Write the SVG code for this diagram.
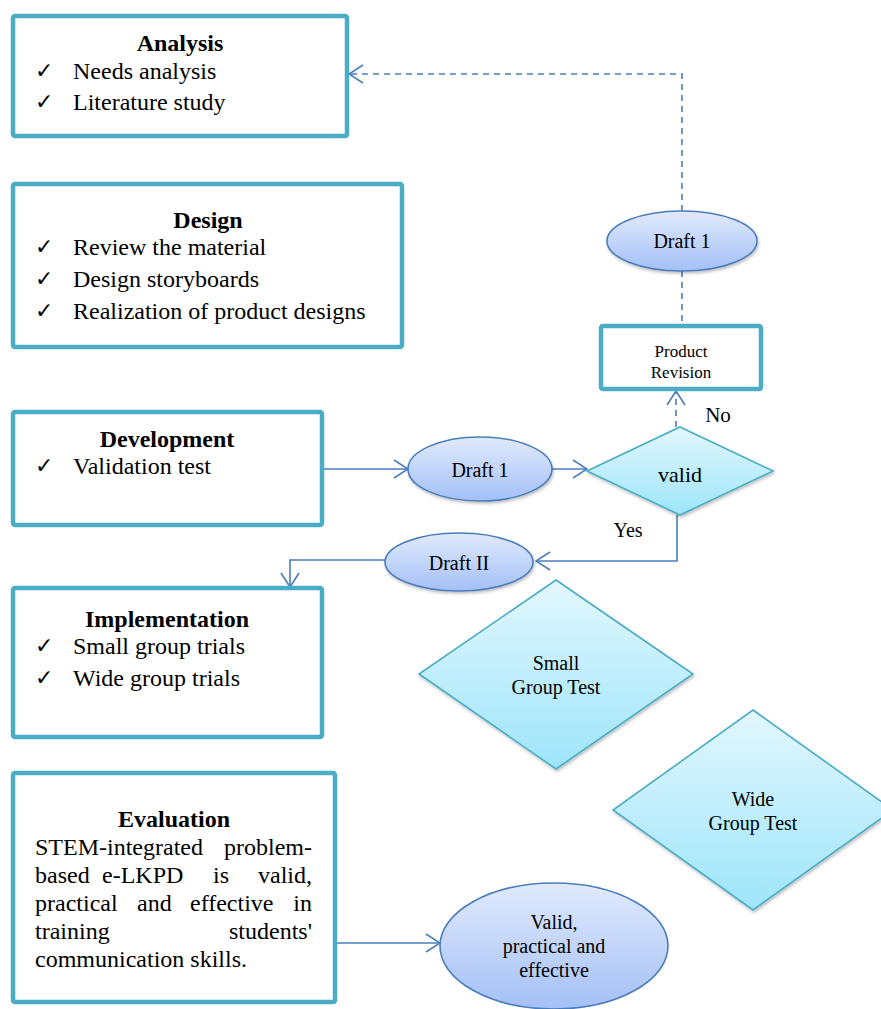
<svg xmlns="http://www.w3.org/2000/svg" width="881" height="1009" viewBox="0 0 881 1009">
<style>
.box{fill:#fff;stroke:#4BACC6;stroke-width:4.5}
.t{font-family:"Liberation Serif","Times New Roman",serif;font-size:24px;fill:#000}
.b{font-weight:bold;text-anchor:middle}
.ck{font-family:"DejaVu Sans",sans-serif;font-size:22px;fill:#000}
.s{font-family:"Liberation Serif","Times New Roman",serif;font-size:20px;fill:#000;text-anchor:middle}
.ell{fill:url(#gE);stroke:#4A7EBB;stroke-width:1.6}
.dia{fill:url(#gD);stroke:#4BACC6;stroke-width:1.6}
.c{fill:none;stroke:#4A7EBB;stroke-width:1.6}
.d{stroke-dasharray:6 5}
</style>
<defs>
<linearGradient id="gE" x1="0" y1="0" x2="0" y2="1"><stop offset="0" stop-color="#E1EAFC"/><stop offset="1" stop-color="#A4C0F6"/></linearGradient>
<linearGradient id="gD" x1="0" y1="0" x2="0" y2="1"><stop offset="0" stop-color="#E2F7FD"/><stop offset="1" stop-color="#9EE5FA"/></linearGradient>
<filter id="sh" x="-10%" y="-10%" width="130%" height="130%"><feDropShadow dx="1" dy="2" stdDeviation="1.5" flood-color="#000" flood-opacity="0.25"/></filter>
<marker id="ar" viewBox="0 0 16 20" refX="15" refY="10" markerWidth="16" markerHeight="20" markerUnits="userSpaceOnUse" orient="auto"><path d="M1,1 L15,10 L1,19" fill="none" stroke="#4A7EBB" stroke-width="1.6"/></marker>
</defs>

<g id="connectors">
<path class="c d" d="M682,211 V74 H349" marker-end="url(#ar)"/>
<path class="c d" d="M682,271 V326"/>
<path class="c d" d="M676,427 V391" marker-end="url(#ar)"/>
<path class="c" d="M324,469 H408" marker-end="url(#ar)"/>
<path class="c" d="M552,469 H587" marker-end="url(#ar)"/>
<path class="c" d="M677,515 V561 H536" marker-end="url(#ar)"/>
<path class="c" d="M385,560 H290 V587" marker-end="url(#ar)"/>
<path class="c" d="M337,943 H440" marker-end="url(#ar)"/>
<text class="s" x="718" y="422" style="font-size:21px">No</text>
<text class="s" x="628" y="537">Yes</text>
</g>

<g id="analysis">
<rect class="box" x="13" y="16" width="334" height="120" rx="2"/>
<text class="t b" x="180" y="51">Analysis</text>
<text class="ck" x="35" y="78">✓</text><text class="t" x="73" y="79">Needs analysis</text>
<text class="ck" x="35" y="109">✓</text><text class="t" x="73" y="110">Literature study</text>
</g>

<g id="design">
<rect class="box" x="13" y="184" width="389" height="163" rx="2"/>
<text class="t b" x="208" y="228">Design</text>
<text class="ck" x="35" y="254">✓</text><text class="t" x="73" y="255">Review the material</text>
<text class="ck" x="35" y="286">✓</text><text class="t" x="73" y="287">Design storyboards</text>
<text class="ck" x="35" y="318">✓</text><text class="t" x="73" y="319">Realization of product designs</text>
</g>

<g id="development">
<rect class="box" x="13" y="412" width="309" height="113" rx="2"/>
<text class="t b" x="167" y="447">Development</text>
<text class="ck" x="35" y="473">✓</text><text class="t" x="73" y="474">Validation test</text>
</g>

<g id="implementation">
<rect class="box" x="13" y="588" width="309" height="149" rx="2"/>
<text class="t b" x="167" y="627">Implementation</text>
<text class="ck" x="35" y="653">✓</text><text class="t" x="73" y="654">Small group trials</text>
<text class="ck" x="35" y="685">✓</text><text class="t" x="73" y="686">Wide group trials</text>
</g>

<g id="evaluation">
<rect class="box" x="13" y="773" width="322" height="229" rx="2"/>
<text class="t b" x="174" y="827">Evaluation</text>
<text class="t" x="35" y="855">STEM-integrated</text><text class="t" x="312" y="855" text-anchor="end">problem-</text>
<text class="t" x="35" y="883">based</text><text class="t" x="102" y="883">e-LKPD</text><text class="t" x="213" y="883">is</text><text class="t" x="312" y="883" text-anchor="end">valid,</text>
<text class="t" x="35" y="911">practical</text><text class="t" x="137" y="911">and</text><text class="t" x="190" y="911">effective</text><text class="t" x="312" y="911" text-anchor="end">in</text>
<text class="t" x="35" y="939">training</text><text class="t" x="312" y="939" text-anchor="end">students'</text>
<text class="t" x="35" y="967">communication skills.</text>
</g>

<g id="draft1-top">
<ellipse class="ell" cx="682" cy="241" rx="75" ry="30" filter="url(#sh)"/>
<text class="s" x="682" y="248">Draft 1</text>
</g>

<g id="product-revision">
<rect class="box" x="601" y="326" width="160" height="63" rx="2"/>
<text class="s" x="681" y="357" style="font-size:17px">Product</text>
<text class="s" x="681" y="378" style="font-size:17px">Revision</text>
</g>

<g id="draft1-mid">
<ellipse class="ell" cx="480" cy="469" rx="72" ry="32" filter="url(#sh)"/>
<text class="s" x="480" y="477">Draft 1</text>
</g>

<g id="valid">
<polygon class="dia" points="680,427 773,471 680,515 587,471" filter="url(#sh)"/>
<text class="s" x="680" y="482" style="font-size:22px">valid</text>
</g>

<g id="draft2">
<ellipse class="ell" cx="459" cy="562" rx="74" ry="29" filter="url(#sh)"/>
<text class="s" x="459" y="570">Draft II</text>
</g>

<g id="small-group-test">
<polygon class="dia" points="556,580 693,674 556,769 419,674" filter="url(#sh)"/>
<text class="s" x="556" y="670">Small</text>
<text class="s" x="556" y="694">Group Test</text>
</g>

<g id="wide-group-test">
<polygon class="dia" points="753,710 893,810 753,910 613,810" filter="url(#sh)"/>
<text class="s" x="753" y="806">Wide</text>
<text class="s" x="753" y="830">Group Test</text>
</g>

<g id="result">
<ellipse class="ell" cx="554" cy="946" rx="114" ry="63"/>
<text class="s" x="554" y="929">Valid,</text>
<text class="s" x="554" y="953">practical and</text>
<text class="s" x="554" y="977">effective</text>
</g>
</svg>
